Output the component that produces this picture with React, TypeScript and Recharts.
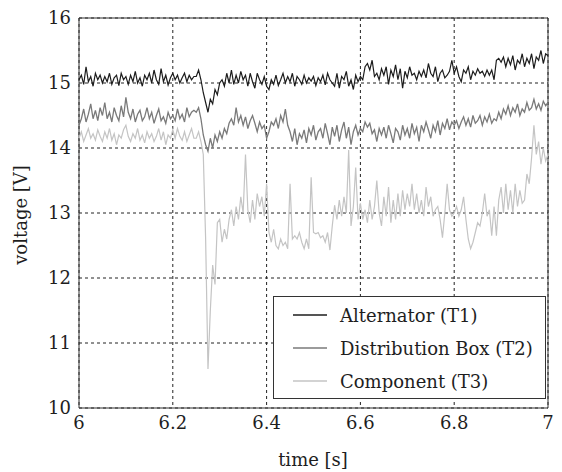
import { LineChart, Line, XAxis, YAxis, CartesianGrid, ReferenceArea } from 'recharts';

// ── sampling grid (s) ─────────────────────────────────────
const T_START = 6;
const T_STEP = 0.005;

// ── series (V), one value every 5 ms from 6.0 s to 7.0 s ──
const ALTERNATOR = [
  15.05, 15.12, 14.98, 15.25, 15.02, 15.1, 14.95, 15.15, 15.05, 15.12,
  15.0, 15.1, 15.02, 15.15, 14.98, 15.08, 15.12, 14.96, 15.15, 15.05,
  15.1, 14.98, 15.12, 15.02, 15.18, 15.0, 15.08, 14.95, 15.12, 15.05,
  15.15, 15.0, 15.2, 15.05, 14.98, 15.22, 15.02, 15.12, 14.97, 15.08,
  15.15, 15.05, 15.12, 15.0, 15.08, 15.15, 15.02, 15.12, 15.05, 15.1,
  15.1, 15.2, 15.05, 14.85, 14.7, 14.55, 14.75, 14.68, 14.9, 14.82,
  15.0, 15.05, 14.95, 15.15, 15.0, 15.2, 14.98, 15.12, 15.0, 15.18,
  15.05, 15.12, 14.95, 15.15, 15.02, 14.92, 15.15, 15.05, 14.98, 15.1,
  14.95, 14.9, 15.05, 14.98, 15.12, 14.96, 15.05, 15.15, 15.0, 15.1,
  15.02, 15.15, 14.95, 15.1, 15.05, 14.98, 15.12, 15.0, 15.08, 15.03,
  15.1, 14.96, 15.08, 15.02, 15.12, 14.97, 15.15, 15.05, 15.0, 14.95,
  15.15, 14.92, 15.1, 15.05, 15.18, 14.95, 15.05, 14.9, 15.12, 15.02,
  15.1, 15.05, 15.25, 15.3, 15.2, 15.35, 15.1, 15.15, 15.05, 15.22,
  15.12, 15.25, 14.98, 15.2, 15.1, 15.28, 15.05, 15.22, 14.92, 15.18,
  15.08, 15.25, 15.12, 15.15, 15.05, 15.18, 15.1, 15.2, 15.08, 15.3,
  15.15, 15.1, 15.25, 15.02, 15.15, 15.2, 15.08, 15.12, 15.18, 15.35,
  15.15, 15.25, 15.1, 15.02, 15.2, 15.15, 15.25, 15.05, 15.18, 15.12,
  15.22, 15.15, 15.18, 15.1, 15.2, 15.12, 15.2, 15.05, 15.35, 15.38,
  15.32, 15.4, 15.25, 15.38, 15.28, 15.42, 15.2, 15.35, 15.3, 15.45,
  15.25, 15.38, 15.3, 15.45, 15.22, 15.4, 15.35, 15.5, 15.3, 15.45,
  15.42,
];

const DISTRIBUTION_BOX = [
  14.35, 14.45, 14.6, 14.4, 14.52, 14.68, 14.45, 14.58, 14.42, 14.62,
  14.5, 14.7, 14.45, 14.55, 14.4, 14.62, 14.5, 14.42, 14.65, 14.48,
  14.78, 14.55, 14.45, 14.6, 14.4, 14.52, 14.58, 14.42, 14.48, 14.62,
  14.45, 14.55, 14.38, 14.5, 14.6, 14.42, 14.48, 14.38, 14.55, 14.45,
  14.5, 14.42, 14.6, 14.45, 14.52, 14.4, 14.62, 14.48, 14.55, 14.58,
  14.55, 14.62, 14.45, 14.2, 14.05, 13.95, 14.15, 14.0, 14.2, 14.1,
  14.25, 14.15, 14.3, 14.22, 14.38, 14.45, 14.35, 14.62, 14.4, 14.5,
  14.35, 14.48, 14.3, 14.42, 14.5, 14.38, 14.25, 14.4, 14.3, 14.35,
  14.15, 14.25, 14.4, 14.35, 14.45, 14.3, 14.5, 14.4, 14.6, 14.35,
  14.25, 14.1, 14.3, 14.05, 14.22, 14.15, 14.28, 14.08, 14.3, 14.2,
  14.35, 14.12, 14.25, 14.3, 14.15, 14.38, 14.22, 14.05, 14.32, 14.18,
  14.35, 14.1, 14.28, 14.4, 14.15, 14.32, 14.05, 14.25, 14.35, 14.2,
  14.3, 14.25, 14.4, 14.32, 14.38, 14.22, 14.28, 14.1, 14.3, 14.2,
  14.32, 14.15, 14.35, 14.22, 14.08, 14.3, 14.25, 14.12, 14.35, 14.2,
  14.3, 14.15, 14.38, 14.22, 14.32, 14.1, 14.35, 14.25, 14.4, 14.28,
  14.15, 14.35, 14.25, 14.42, 14.2, 14.38, 14.3, 14.45, 14.28, 14.4,
  14.35, 14.42, 14.3, 14.4, 14.48, 14.35, 14.45, 14.32, 14.5, 14.38,
  14.42, 14.5, 14.35, 14.48, 14.4, 14.52, 14.38, 14.45, 14.42, 14.55,
  14.45, 14.6, 14.52, 14.65, 14.5, 14.62, 14.55, 14.68, 14.5, 14.6,
  14.55, 14.7, 14.58, 14.62, 14.75, 14.6, 14.68, 14.58, 14.72, 14.65,
  14.7,
];

const COMPONENT = [
  14.15, 14.25, 14.1, 14.2, 14.3, 14.15, 14.22, 14.12, 14.28, 14.18,
  14.1, 14.25, 14.15, 14.3, 14.12, 14.22, 14.05, 14.2, 14.15, 14.28,
  14.35, 14.18, 14.1, 14.22, 14.15, 14.3, 14.12, 14.2, 14.08, 14.25,
  14.15, 14.22, 14.1, 14.18, 14.3, 14.12, 14.25, 14.05, 14.2, 14.15,
  14.28, 14.15, 14.3, 14.18, 14.12, 14.25, 14.1, 14.2, 14.3, 14.15,
  14.15, 14.25, 14.1, 13.9, 12.6, 10.6, 11.5, 12.2, 11.9, 12.85,
  12.9, 12.55, 12.75, 12.6, 12.9, 13.05, 12.8, 13.1, 12.9, 13.25,
  13.0, 13.9, 13.05, 12.85, 13.2, 12.9, 13.3, 13.1, 13.25, 12.95,
  13.45, 12.7, 12.55, 12.75, 12.5, 12.45, 12.6, 12.5, 12.55, 12.45,
  13.45, 12.6, 12.65, 12.6, 12.7, 12.55, 12.45, 12.6, 12.45, 13.55,
  12.7, 12.68, 12.7, 12.62, 12.65, 12.55, 12.7, 12.43, 12.8, 13.12,
  12.9, 13.2, 12.95, 13.25, 13.0, 13.97, 12.8, 13.1, 13.7, 12.9,
  13.15, 12.9, 13.05, 12.85, 13.2, 12.9, 13.1, 13.5, 13.0, 12.8,
  13.25, 12.95, 13.4, 12.85, 13.2, 12.9, 13.3, 12.95, 13.35, 13.05,
  13.3, 13.1, 13.45, 13.05, 13.3, 13.0, 13.2, 12.95, 13.4, 13.1,
  13.25, 12.95, 13.05, 13.1, 12.9, 12.62, 13.0, 13.45, 13.05, 12.95,
  13.0, 13.1, 12.95, 13.05, 13.25, 12.9, 12.6, 12.45, 12.55, 12.7,
  12.85, 12.8, 13.0, 13.3, 12.95, 13.05, 12.65, 13.1, 12.65, 13.2,
  13.4, 13.0, 13.45, 13.05, 13.35, 13.0, 13.45, 13.1, 13.35, 13.15,
  13.2, 13.6, 13.45, 13.85, 14.35, 13.9, 14.1, 13.75, 14.0, 13.8,
  13.9,
];

const X_TICKS = [6, 6.2, 6.4, 6.6, 6.8, 7];
const Y_TICKS = [10, 11, 12, 13, 14, 15, 16];

const SERIES = [
  { key: 'alternator', name: 'Alternator (T1)', color: '#1c1c1c', width: 1.2 },
  { key: 'distBox', name: 'Distribution Box (T2)', color: '#7a7a7a', width: 1.3 },
  { key: 'component', name: 'Component (T3)', color: '#c4c4c4', width: 1.2 },
];

const data = ALTERNATOR.map((v, i) => ({
  t: +(T_START + i * T_STEP).toFixed(3),
  alternator: v,
  distBox: DISTRIBUTION_BOX[i],
  component: COMPONENT[i],
}));

const FONT = '"DejaVu Serif", serif';
const TEXT = '#1e1e1e';

function ChartLegend() {
  return (
    <div
      style={{
        position: 'absolute',
        left: 273,
        top: 296,
        width: 271,
        height: 101,
        border: '1px solid #333',
        background: '#fff',
        fontFamily: FONT,
        fontSize: 18,
        color: TEXT,
      }}
    >
      {SERIES.map((s, i) => (
        <div
          key={s.key}
          style={{ position: 'absolute', left: 19, top: 6 + i * 33, height: 24, display: 'flex', alignItems: 'center' }}
        >
          <svg width={34} height={4} style={{ marginRight: 13 }}>
            <line x1={0} y1={2} x2={34} y2={2} stroke={s.color} strokeWidth={1.3} />
          </svg>
          <span>{s.name}</span>
        </div>
      ))}
    </div>
  );
}

export default function App() {
  return (
    <div style={{ position: 'absolute', left: 0, top: 0, width: 562, height: 472, background: '#fff' }}>
      <LineChart width={562} height={472} data={data} margin={{ top: 18, right: 14, bottom: 0, left: 0 }}>
        <CartesianGrid stroke="#222" strokeDasharray="3 3" />
        <XAxis
          dataKey="t"
          type="number"
          domain={[6, 7]}
          ticks={X_TICKS}
          height={64}
          tickLine={false}
          axisLine={false}
          tick={{ fill: TEXT, fontSize: 18, fontFamily: FONT }}
          label={{
            content: () => (
              <text x={313} y={466} textAnchor="middle" fill={TEXT} fontSize={18} fontFamily={FONT}>
                time [s]
              </text>
            ),
          }}
        />
        <YAxis
          type="number"
          domain={[10, 16]}
          ticks={Y_TICKS}
          width={79}
          tickLine={false}
          axisLine={false}
          tick={{ fill: TEXT, fontSize: 18, fontFamily: FONT }}
          label={{
            content: () => (
              <text
                x={27}
                y={215}
                transform="rotate(-90 27 215)"
                textAnchor="middle"
                fill={TEXT}
                fontSize={18}
                fontFamily={FONT}
              >
                voltage [V]
              </text>
            ),
          }}
        />
        {SERIES.map((s) => (
          <Line
            key={s.key}
            type="linear"
            dataKey={s.key}
            name={s.name}
            stroke={s.color}
            strokeWidth={s.width}
            dot={false}
            isAnimationActive={false}
          />
        ))}
        <ReferenceArea x1={6} x2={7} y1={10} y2={16} fill="none" stroke="#333" strokeWidth={1} />
      </LineChart>
      <ChartLegend />
    </div>
  );
}
